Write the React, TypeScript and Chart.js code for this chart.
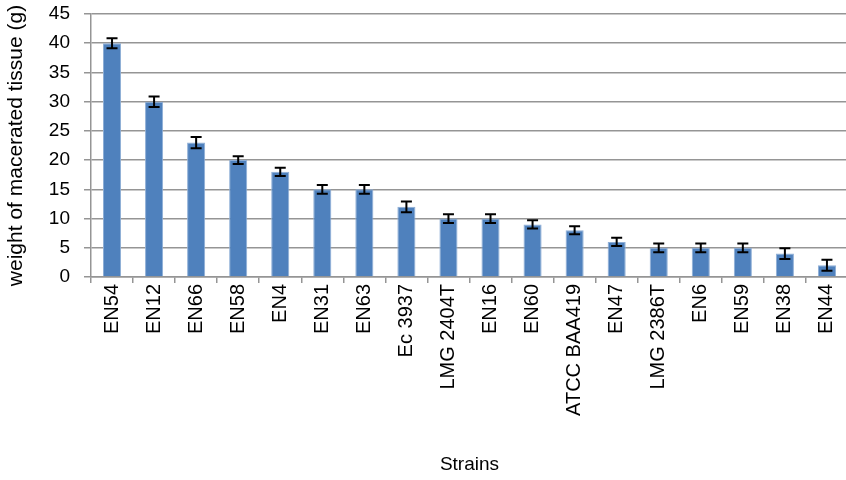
import React, { useEffect, useRef } from "react";
import { Chart, registerables } from "chart.js";

Chart.register(...registerables);

const strains = [
  "EN54", "EN12", "EN66", "EN58", "EN4", "EN31", "EN63", "Ec 3937", "LMG 2404T",
  "EN16", "EN60", "ATCC BAA419", "EN47", "LMG 2386T", "EN6", "EN59", "EN38", "EN44",
];
const weights = [40, 30, 23, 20, 18, 15, 15, 12, 10, 10, 9, 8, 6, 5, 5, 5, 4, 2];
const errors = [0.85, 0.9, 0.95, 0.65, 0.7, 0.75, 0.75, 0.9, 0.75, 0.75, 0.7, 0.7, 0.7, 0.75, 0.75, 0.75, 0.9, 0.95];
const yTitle = "weight of macerated tissue (g)";
const xTitle = "Strains";

const FONT = "'Liberation Sans', Arial, sans-serif";

const errorBarPlugin = {
  id: "errorBars",
  afterDatasetsDraw(chart: any) {
    const ctx = chart.ctx;
    const meta = chart.getDatasetMeta(0);
    const y = chart.scales.y;
    ctx.save();
    ctx.strokeStyle = "#000";
    ctx.lineWidth = 2;
    meta.data.forEach((bar: any, i: number) => {
      const v = weights[i];
      const e = errors[i];
      const x = bar.x;
      const yTop = y.getPixelForValue(v + e);
      const yBot = y.getPixelForValue(v - e);
      const cap = 5.5;
      ctx.beginPath();
      ctx.moveTo(x, yTop);
      ctx.lineTo(x, yBot);
      ctx.moveTo(x - cap, yTop);
      ctx.lineTo(x + cap, yTop);
      ctx.moveTo(x - cap, yBot);
      ctx.lineTo(x + cap, yBot);
      ctx.stroke();
    });
    ctx.restore();
  },
};

export default function App() {
  const ref = useRef<HTMLCanvasElement>(null);
  useEffect(() => {
    if (!ref.current) return;
    const chart = new Chart(ref.current, {
      type: "bar",
      data: {
        labels: strains,
        datasets: [
          {
            data: weights,
            backgroundColor: "#4F81BD",
            borderColor: "#8eaed6",
            borderWidth: 1,
            barPercentage: 0.43,
            categoryPercentage: 1,
          },
        ],
      },
      options: {
        animation: false,
        responsive: false,
        maintainAspectRatio: false,
        layout: { padding: { top: 14, right: 2, left: 0, bottom: 0 } },
        plugins: { legend: { display: false }, tooltip: { enabled: false } },
        scales: {
          x: {
            afterFit(scale: any) {
              scale.height = 203;
            },
            grid: {
              drawOnChartArea: false,
              drawTicks: true,
              tickLength: 6,
              color: "#959595",
              lineWidth: 1.5,
              offset: true,
            },
            border: { display: true, color: "#959595", width: 1.5 },
            ticks: {
              autoSkip: false,
              minRotation: 90,
              maxRotation: 90,
              padding: 1,
              color: "#000",
              font: { family: FONT, size: 20 },
            },
            title: {
              display: true,
              text: xTitle,
              color: "#000",
              font: { family: FONT, size: 19 },
              padding: { top: 4, bottom: 4 },
            },
          },
          y: {
            min: 0,
            max: 45,
            afterFit(scale: any) {
              scale.width = 91;
              scale.paddingTop = 0;
              scale.paddingBottom = 0;
            },
            grid: {
              color: "#959595",
              lineWidth: 1.5,
              tickLength: 7,
            },
            border: { display: true, color: "#959595", width: 1.5 },
            ticks: {
              stepSize: 5,
              padding: 14,
              color: "#000",
              font: { family: FONT, size: 19 },
            },
            title: {
              display: true,
              text: yTitle,
              color: "#000",
              font: { family: FONT, size: 21 },
              padding: { top: 4, bottom: 3 },
            },
          },
        },
      },
      plugins: [errorBarPlugin],
    });
    return () => chart.destroy();
  }, []);
  return (
    <div style={{ position: "absolute", left: 0, top: 0, width: 846, height: 480, overflow: "hidden", background: "#fff" }}>
      <canvas ref={ref} width={852} height={480} style={{ width: 852, height: 480, display: "block" }} />
    </div>
  );
}
